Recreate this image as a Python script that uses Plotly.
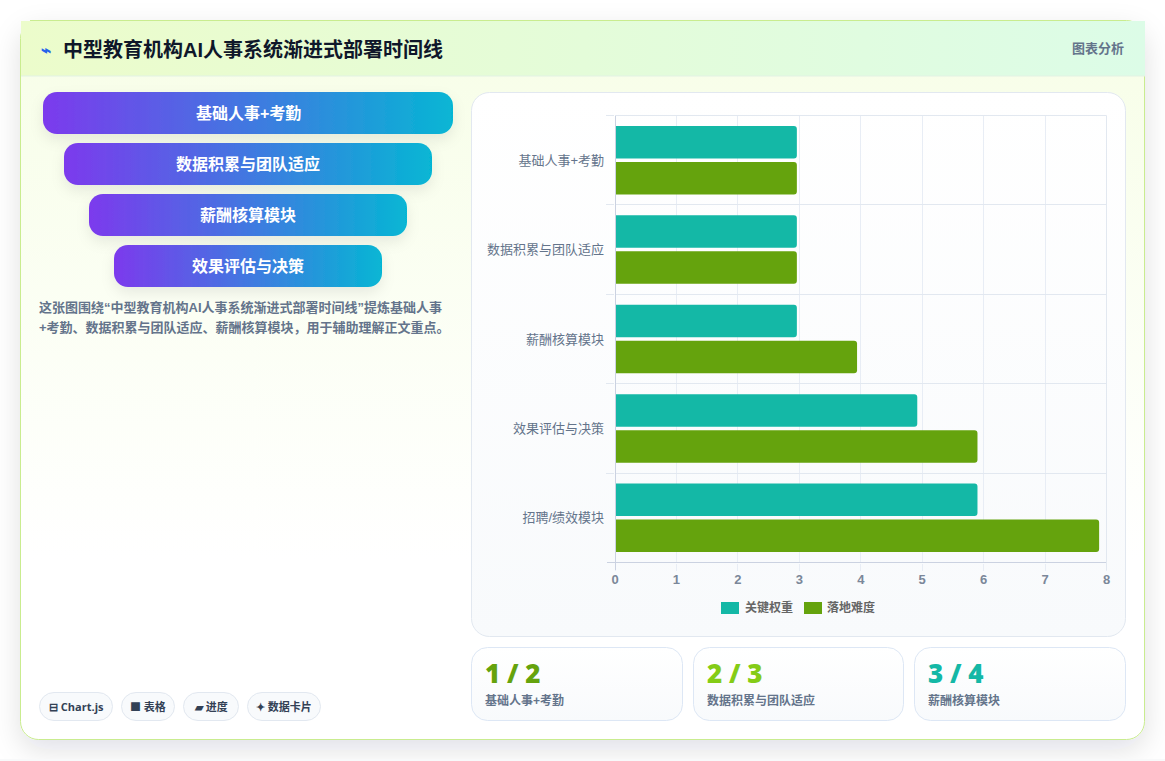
import base64
import plotly.graph_objects as go

W, H = 1165, 761

# Chart data
categories = ["基础人事+考勤", "数据积累与团队适应", "薪酬核算模块", "效果评估与决策", "招聘/绩效模块"]
key_weight = [2.96, 2.96, 2.96, 4.92, 5.9]
difficulty = [2.96, 2.96, 3.94, 5.9, 7.88]
series_names = ["关键权重", "落地难度"]
series_colors = ["#14b8a6", "#65a30d"]
x_ticks = [0, 1, 2, 3, 4, 5, 6, 7, 8]

# Page copy
title_text = "中型教育机构AI人事系统渐进式部署时间线"
header_tag = "图表分析"
funnel_labels = ["基础人事+考勤", "数据积累与团队适应", "薪酬核算模块", "效果评估与决策"]
note_lines = [
    "这张图围绕“中型教育机构AI人事系统渐进式部署时间线”提炼基础人事",
    "+考勤、数据积累与团队适应、薪酬核算模块，用于辅助理解正文重点。",
]
pill_labels = ["⊟ Chart.js", "■ 表格", "▰ 进度", "✦ 数据卡片"]
stat_values = ["1 / 2", "2 / 3", "3 / 4"]
stat_labels = ["基础人事+考勤", "数据积累与团队适应", "薪酬核算模块"]
stat_colors = ["#65a30d", "#84cc16", "#14b8a6"]

# Box geometry in page pixels: left, top, right, bottom
funnel_boxes = [(43, 92, 453, 134), (64, 143, 432, 185), (89, 194, 407, 236), (114, 245, 382, 287)]
pill_boxes = [(39, 692, 113, 721), (121, 692, 175, 721), (183, 692, 239, 721), (247, 692, 321, 721)]
stat_boxes = [(471, 647, 683, 721), (693, 647, 904, 721), (914, 647, 1126, 721)]

CJK = "'Liberation Sans', 'Noto Sans CJK SC', sans-serif"
HEAVY = "'Open Sans', 'Noto Sans', 'Noto Sans CJK SC', sans-serif"
BLACK = "'Noto Sans', 'Open Sans', sans-serif"


def rrect(box, r, fill, stroke="none", extra=""):
    l, t, rr, b = box
    return (f'<rect x="{l}" y="{t}" width="{rr - l}" height="{b - t}" rx="{r}" ry="{r}" '
            f'fill="{fill}" stroke="{stroke}" {extra}/>')


# Backdrop: card, header band, panels and gradient funnel bars
defs = """
<defs>
<linearGradient id="card" x1="0" y1="0" x2="0" y2="1">
  <stop offset="0" stop-color="#f7fee7"/><stop offset="0.75" stop-color="#ffffff"/>
</linearGradient>
<linearGradient id="head" x1="0" y1="0" x2="1" y2="0">
  <stop offset="0" stop-color="#ecfccb"/><stop offset="1" stop-color="#dcfce7"/>
</linearGradient>
<linearGradient id="panel" x1="0" y1="0" x2="0" y2="1">
  <stop offset="0" stop-color="#ffffff"/><stop offset="1" stop-color="#f8fafc"/>
</linearGradient>
<linearGradient id="funnel" x1="0" y1="0" x2="1" y2="0">
  <stop offset="0" stop-color="#7c3aed"/><stop offset="1" stop-color="#06b6d4"/>
</linearGradient>
<filter id="cardShadow" x="-10%" y="-10%" width="120%" height="120%">
  <feDropShadow dx="0" dy="10" stdDeviation="14" flood-color="#0f172a" flood-opacity="0.12"/>
</filter>
<filter id="barShadow" x="-10%" y="-40%" width="120%" height="190%">
  <feDropShadow dx="0" dy="6" stdDeviation="7" flood-color="#0f172a" flood-opacity="0.08"/>
</filter>
</defs>
"""
parts = [f'<svg xmlns="http://www.w3.org/2000/svg" width="{W}" height="{H}" viewBox="0 0 {W} {H}">', defs]
parts.append(f'<rect width="{W}" height="{H}" fill="#ffffff"/>')
parts.append(rrect((20.5, 20.5, 1144.5, 739.5), 18, "url(#card)", "#c9ec8f", 'filter="url(#cardShadow)"'))
parts.append('<rect x="21" y="21" width="1124" height="55" fill="url(#head)"/>')
parts.append('<rect x="21" y="75.5" width="1124" height="1" fill="#e2f2e4"/>')
parts.append('<rect x="30" y="20" width="1086" height="1" fill="#c9ec8f"/>')
parts.append('<rect x="0" y="759" width="1165" height="2" fill="#f8f9fa"/>')
for box in funnel_boxes:
    parts.append(rrect(box, 14, "url(#funnel)", "none", 'filter="url(#barShadow)"'))
parts.append(rrect((471.5, 92.5, 1125.5, 636.5), 18, "url(#panel)", "#e2e8f0"))
for box in stat_boxes:
    l, t, r, b = box
    parts.append(rrect((l + .5, t + .5, r - .5, b - .5), 16, "url(#panel)", "#dde7f5"))
for box in pill_boxes:
    l, t, r, b = box
    parts.append(rrect((l + .5, t + .5, r - .5, b - .5), 14.5, "#f8fafc", "#e2e8f0"))
parts.append("</svg>")
backdrop = "data:image/svg+xml;base64," + base64.b64encode("".join(parts).encode()).decode()

fig = go.Figure()
for name, values, color in zip(series_names, [key_weight, difficulty], series_colors):
    fig.add_bar(y=categories, x=values, name=name, orientation="h",
                marker=dict(color=color, line=dict(width=0)))

# Invisible page-sized axes: labels and legend marks are placed in page pixels on them
fig.add_scatter(x=[None], y=[None], xaxis="x2", yaxis="y2", showlegend=False, hoverinfo="skip")

annotations = []


def text(x, y, s, size, color, family=CJK, weight=700, anchor="left"):
    annotations.append(dict(
        xref="x2", yref="y2", x=x, y=y, text=s, showarrow=False,
        xanchor=anchor, yanchor="middle", align=anchor,
        font=dict(size=size, color=color, family=family, weight=weight),
        borderpad=0, borderwidth=0,
    ))


text(41, 50, "⌁", 17, "#2563eb")
text(63, 49.5, title_text, 20, "#0f172a")
text(1124, 48, header_tag, 13, "#64748b", anchor="right")
for box, label in zip(funnel_boxes, funnel_labels):
    text((box[0] + box[2]) / 2, (box[1] + box[3]) / 2 - 0.5, label, 16, "#ffffff", anchor="center")
text(39, 307, note_lines[0], 13, "#64748b")
text(39, 327, note_lines[1], 13, "#64748b")
for box, label in zip(pill_boxes, pill_labels):
    text((box[0] + box[2]) / 2, (box[1] + box[3]) / 2 - 0.5, label, 11, "#334155", family=HEAVY, anchor="center")
for box, value, label, color in zip(stat_boxes, stat_values, stat_labels, stat_colors):
    text(box[0] + 14, 673, value, 26, color, family=BLACK, weight=900)
    text(box[0] + 14, 700.5, label, 12, "#64748b")

# Legend row under the value axis
page_shapes = []
for (x0, x1, tx), name, color in zip([(721, 739, 745), (804, 822, 827)], series_names, series_colors):
    page_shapes.append(dict(type="rect", xref="x2", yref="y2", x0=x0, x1=x1, y0=602, y1=614,
                            fillcolor=color, line=dict(width=0)))
    text(tx, 607.5, name, 12, "#666666")

# Frame of the plot area
for x0, y0, x1, y1, color in [
    (607, 562.5, 1106.5, 562.5, "#cbd2e1"),
    (615.5, 115.5, 615.5, 570, "#cbd2e1"),
    (615, 115.5, 1106.5, 115.5, "#e2e8f0"),
    (1106.5, 115.5, 1106.5, 570, "#e2e8f0"),
]:
    page_shapes.append(dict(type="line", xref="x2", yref="y2", x0=x0, x1=x1, y0=y0, y1=y1,
                            line=dict(color=color, width=1), layer="below"))

fig.update_layout(
    width=W, height=H, autosize=False,
    margin=dict(l=0, r=0, t=0, b=0, pad=0, autoexpand=False),
    paper_bgcolor="#ffffff", plot_bgcolor="rgba(0,0,0,0)",
    showlegend=False,
    barmode="group", bargap=0.195, bargroupgap=0.097, barcornerradius=3,
    font=dict(family=CJK),
    hovermode=False,
    xaxis=dict(
        domain=[615 / W, 1106.5 / W], range=[0, 8], tickvals=x_ticks,
        showgrid=True, gridcolor="#e8edf5", gridwidth=1, zeroline=False,
        showline=False, ticks="outside", ticklen=7, tickcolor="#e8edf5",
        ticklabelstandoff=-2,
        tickfont=dict(size=13, color="#7b8799", family=CJK, weight=700),
        anchor="y",
    ),
    yaxis=dict(
        domain=[1 - 562.5 / H, 1 - 115.5 / H], autorange="reversed", type="category",
        tickson="boundaries", showgrid=True, gridcolor="#e2e8f0", gridwidth=1,
        showline=False, ticks="outside", ticklen=8, tickcolor="#e2e8f0",
        ticklabelstandoff=10,
        tickfont=dict(size=13, color="#64748b", family=CJK),
        anchor="x",
    ),
    xaxis2=dict(domain=[0, 1], range=[0, W], visible=False, anchor="y2", fixedrange=True),
    yaxis2=dict(domain=[0, 1], range=[H, 0], visible=False, anchor="x2", fixedrange=True),
    images=[dict(source=backdrop, xref="paper", yref="paper", x=0, y=1, sizex=1, sizey=1,
                 xanchor="left", yanchor="top", sizing="stretch", layer="below")],
    shapes=page_shapes,
    annotations=annotations,
)

fig.write_html("out.html", config=dict(displayModeBar=False))
